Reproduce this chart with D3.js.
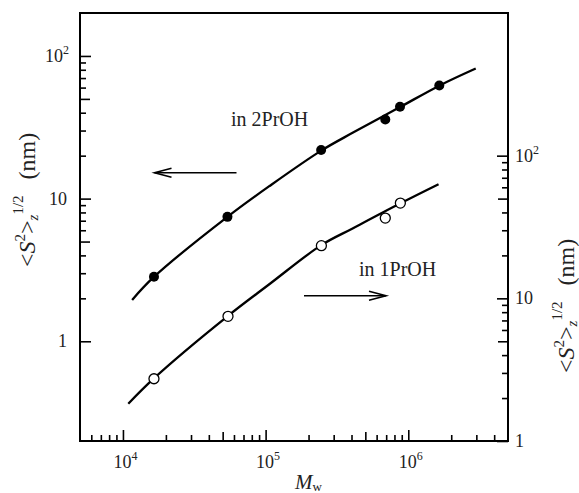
<!DOCTYPE html>
<html><head><meta charset="utf-8">
<script src="https://cdn.jsdelivr.net/npm/d3@7"></script>
<style>html,body{margin:0;padding:0;background:#fff}svg{display:block}</style>
</head><body>
<svg id="c" width="579" height="493"></svg>
<script>
// ---- data ----
// 2PrOH (filled, left axis)
const mw2P = [16500, 54000, 245000, 690000, 875000, 1650000];
const s2P  = [2.83, 7.45, 21.9, 35.9, 44.0, 62.0];
const curveMw2P = [11600, 16550, 54000, 106700, 245500, 407000, 875000, 1650000, 2970000];
const curveS2P  = [1.95, 2.835, 7.45, 12.27, 21.7, 28.9, 43.8, 61.9, 81.6];
// 1PrOH (open, right axis)
const mw1P = [16500, 54500, 246000, 690000, 880000];
const s1P  = [2.73, 7.48, 23.4, 36.5, 46.5];
const curveMw1P = [10900, 16550, 54000, 106700, 245500, 407000, 875000, 1630000];
const curveS1P  = [1.826, 2.76, 7.48, 12.6, 23.6, 30.9, 46.2, 63.1];
// ticks
const xMajor = [1e4, 1e5, 1e6];
const xExp = ["4", "5", "6"];
const xMid = [5e4, 5e5];
const xMinor = [6e3,7e3,8e3,9e3,2e4,3e4,4e4,6e4,7e4,8e4,9e4,2e5,3e5,4e5,6e5,7e5,8e5,9e5,2e6,3e6,4e6];
const yMajor = [1, 10, 100];
const yBase = ["1", "10", "10"];
const yExp = ["", "", "2"];
const yMid = [5, 50];
const yMinor = [2,3,4,6,7,8,9,20,30,40,60,70,80,90];
const labels = ["in 2PrOH", "in 1PrOH"];

// ---- layout ----
const L = 80, T = 13, W = 428, H = 428;
const FONT = "'Liberation Serif','Times New Roman',serif";
const svg = d3.select("#c").style("font-family", FONT);
const x = d3.scaleLog().domain([5e3, 5e6]).range([L, L + W]);
const yL = d3.scaleLog().domain([0.2, 200]).range([T + H, T]);
const yR = d3.scaleLog().domain([1, 1000]).range([T + H, T]);

function tickAxis(axisFn, scale, vals, size, tr) {
  const g = svg.append("g").attr("transform", tr)
    .call(axisFn(scale).tickValues(vals).tickSize(size).tickFormat(""));
  g.select(".domain").remove();
  g.selectAll(".tick line").attr("stroke", "#000").attr("stroke-width", 1.6);
}
[[xMajor, 11], [xMid, 9], [xMinor, 6]].forEach(([v, s]) =>
  tickAxis(d3.axisBottom, x, v, -s, `translate(0,${T + H})`));
[[yMajor, 11], [yMid, 10], [yMinor, 6]].forEach(([v, s]) =>
  tickAxis(d3.axisLeft, yL, v, -s, `translate(${L},0)`));
[[yMajor, 11], [yMid, 10], [yMinor, 6]].forEach(([v, s]) =>
  tickAxis(d3.axisRight, yR, v, -s, `translate(${L + W},0)`));

svg.append("rect").attr("x", L).attr("y", T).attr("width", W).attr("height", H)
  .attr("fill", "none").attr("stroke", "#000").attr("stroke-width", 2);

xMajor.forEach((v, i) => {
  const t = svg.append("text").attr("x", x(v) - 9.5).attr("y", 468)
    .attr("font-size", 18).attr("fill", "#222");
  t.append("tspan").text("10");
  t.append("tspan").attr("font-size", 12).attr("dy", -8).text(xExp[i]);
});
yMajor.forEach((v, i) => {
  const t = svg.append("text").attr("y", yL(v) + 6).attr("font-size", 18).attr("fill", "#222");
  const w = yBase[i].length * 9;
  t.attr("x", (yExp[i] ? 63 : 67) - w);
  t.append("tspan").text(yBase[i]);
  if (yExp[i]) t.append("tspan").attr("font-size", 12).attr("dy", -8).text(yExp[i]);
});
yMajor.forEach((v, i) => {
  const t = svg.append("text").attr("x", 515).attr("y", yR(v) + 6)
    .attr("font-size", 18).attr("fill", "#222");
  t.append("tspan").text(yBase[i]);
  if (yExp[i]) t.append("tspan").attr("font-size", 12).attr("dy", -8).text(yExp[i]);
});

const xt = svg.append("text").attr("x", 295).attr("y", 489).attr("font-size", 21).attr("fill", "#222");
xt.append("tspan").attr("font-style", "italic").text("M");
xt.append("tspan").attr("font-size", 13).attr("dy", 2).text("w");

function yTitle(tx, ty) {
  const t = svg.append("text").attr("transform", `translate(${tx},${ty}) rotate(-90)`)
    .attr("font-size", 24).attr("fill", "#222");
  t.append("tspan").text("<");
  t.append("tspan").attr("font-style", "italic").text("S");
  t.append("tspan").attr("font-size", 15).attr("dy", -10).text("2");
  t.append("tspan").attr("dy", 10).text(">");
  t.append("tspan").attr("font-size", 15).attr("font-style", "italic").attr("dy", 3).text("z");
  t.append("tspan").attr("font-size", 15).attr("dy", -15).text("1/2");
  t.append("tspan").attr("dy", 12).attr("dx", 16).text("(nm)");
}
yTitle(35, 267);
yTitle(574, 373);

const line = d3.line().curve(d3.curveCatmullRom.alpha(0.5));
svg.append("path")
  .attr("d", line(curveMw2P.map((m, i) => [x(m), yL(curveS2P[i])])))
  .attr("fill", "none").attr("stroke", "#000").attr("stroke-width", 2.3);
svg.append("path")
  .attr("d", line(curveMw1P.map((m, i) => [x(m), yR(curveS1P[i])])))
  .attr("fill", "none").attr("stroke", "#000").attr("stroke-width", 2.3);

svg.selectAll(".p2").data(mw2P).enter().append("circle")
  .attr("cx", d => x(d)).attr("cy", (d, i) => yL(s2P[i])).attr("r", 5).attr("fill", "#000");
svg.selectAll(".p1").data(mw1P).enter().append("circle")
  .attr("cx", d => x(d)).attr("cy", (d, i) => yR(s1P[i])).attr("r", 5)
  .attr("fill", "#fff").attr("stroke", "#000").attr("stroke-width", 1.3);

svg.append("text").attr("x", 231).attr("y", 125.5).attr("font-size", 20).attr("fill", "#222").text(labels[0]);
svg.append("text").attr("x", 359).attr("y", 275.5).attr("font-size", 20).attr("fill", "#222").text(labels[1]);

function arrow(x1, x2, y) {
  const d = x2 > x1 ? -1 : 1;
  svg.append("line").attr("x1", x1).attr("x2", x2).attr("y1", y).attr("y2", y)
    .attr("stroke", "#000").attr("stroke-width", 1.6);
  svg.append("path").attr("d", `M${x2 + d * 17},${y - 4.5}L${x2},${y}L${x2 + d * 17},${y + 4.5}`)
    .attr("fill", "none").attr("stroke", "#000").attr("stroke-width", 1.6);
}
arrow(236.5, 154.5, 172.7);
arrow(304, 386, 295.7);
</script>
</body></html>
